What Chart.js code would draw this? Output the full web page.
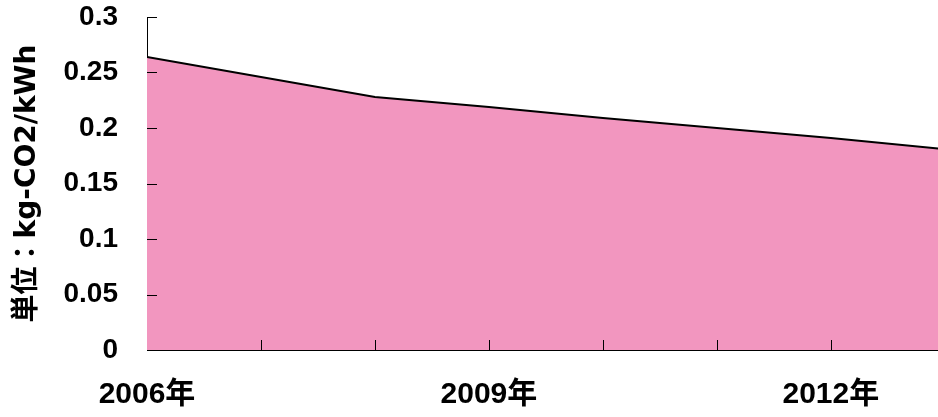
<!DOCTYPE html>
<html>
<head>
<meta charset="utf-8">
<script src="https://cdn.jsdelivr.net/npm/chart.js@4/dist/chart.umd.min.js"></script>
<style>
  html, body { margin: 0; padding: 0; background: #fff; }
  #wrap { position: relative; width: 938px; height: 417px; }
</style>
</head>
<body>
<div id="wrap"><canvas id="chart"></canvas></div>
<script>
  // 排出係数（kg-CO2/kWh）
  var years = [2006, 2007, 2008, 2009, 2010, 2011, 2012, 2013];
  var values = [0.264, 0.246, 0.228, 0.219, 0.209, 0.200, 0.191, 0.181];
  var labelYears = [2006, 2009, 2012];
  var yTicks = [0, 0.05, 0.1, 0.15, 0.2, 0.25, 0.3];
  var yTitle = '単位：kg-CO2/kWh';

  var FONT = "'Liberation Sans', 'Noto Sans CJK JP', sans-serif";
  var TITLE_FONT = "'DejaVu Sans', 'Noto Sans CJK JP', sans-serif";
  var X_MAX = 2012.94; // 右端は2013年の手前で切れている

  // 目盛り線を内側に描く
  var innerTicks = {
    id: 'innerTicks',
    afterDraw: function (chart) {
      var ctx = chart.ctx;
      var xs = chart.scales.x, ys = chart.scales.y;
      var len = 10;
      ctx.save();
      ctx.strokeStyle = '#000';
      ctx.lineWidth = 1;
      ctx.beginPath();
      years.forEach(function (yr) {
        if (yr <= xs.min || yr > xs.max) return;
        var px = Math.round(xs.getPixelForValue(yr)) + 0.5;
        ctx.moveTo(px, ys.bottom);
        ctx.lineTo(px, ys.bottom - len);
      });
      yTicks.forEach(function (v) {
        if (v === 0) return;
        var py = Math.round(ys.getPixelForValue(v)) + 0.5;
        ctx.moveTo(xs.left, py);
        ctx.lineTo(xs.left + len, py);
      });
      ctx.stroke();
      ctx.restore();
    }
  };

  function noPad(s) {
    s.paddingLeft = 0; s.paddingRight = 0;
    s.paddingTop = 0; s.paddingBottom = 0;
  }

  var pts = years.map(function (y, i) { return { x: y, y: values[i] }; });

  new Chart(document.getElementById('chart'), {
    type: 'line',
    data: {
      datasets: [{
        data: pts,
        fill: 'origin',
        backgroundColor: '#F296BF',
        borderColor: '#000',
        borderWidth: 2,
        pointRadius: 0,
        tension: 0
      }]
    },
    options: {
      responsive: true,
      maintainAspectRatio: false,
      animation: false,
      layout: { padding: { top: 17, right: 0, left: 0, bottom: 0 } },
      plugins: { legend: { display: false }, tooltip: { enabled: false } },
      scales: {
        x: {
          type: 'linear',
          min: 2006,
          max: X_MAX,
          z: 1,
          afterBuildTicks: function (s) {
            s.ticks = labelYears.map(function (v) { return { value: v }; });
          },
          afterFit: function (s) { s.height = 67; noPad(s); },
          grid: { display: false, drawTicks: false },
          border: { display: true, color: '#000', width: 1 },
          ticks: {
            autoSkip: false,
            maxRotation: 0,
            padding: 27,
            color: '#000',
            font: { family: FONT, size: 30, weight: 'bold' },
            callback: function (v) { return v + '年'; }
          }
        },
        y: {
          min: 0,
          max: 0.3,
          z: 1,
          afterFit: function (s) { s.width = 147; noPad(s); },
          grid: { display: false, drawTicks: false },
          border: { display: true, color: '#000', width: 1 },
          afterBuildTicks: function (s) {
            s.ticks = yTicks.map(function (v) { return { value: v }; });
          },
          ticks: {
            padding: 29,
            color: '#000',
            font: { family: FONT, size: 28, weight: 'bold' },
            callback: function (v) { return String(Number(v.toFixed(2))); }
          },
          title: {
            display: true,
            text: yTitle,
            color: '#000',
            padding: { top: 11, bottom: 0 },
            font: { family: TITLE_FONT, size: 28, weight: 'bold' }
          }
        }
      }
    },
    plugins: [innerTicks]
  });
</script>
</body>
</html>
